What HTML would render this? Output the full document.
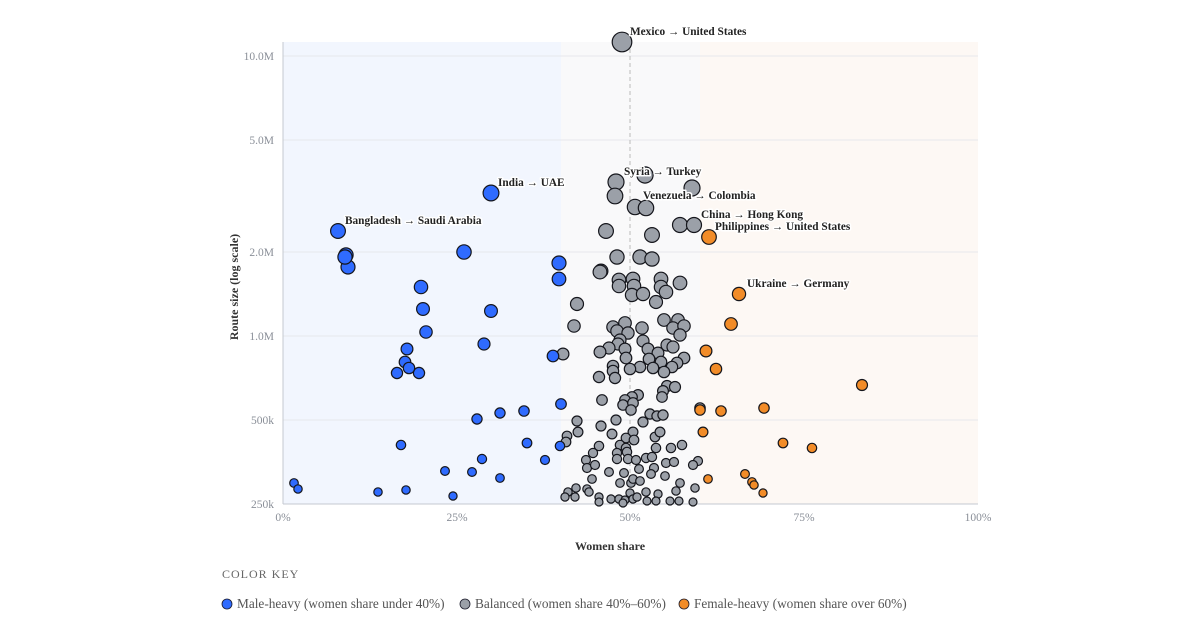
<!DOCTYPE html>
<html><head><meta charset="utf-8"><style>
body{margin:0;background:#fff;width:1200px;height:630px;overflow:hidden;font-family:"Liberation Serif",serif}
svg{display:block}
.t{font-family:"Liberation Serif",serif;font-size:11.5px;fill:#8a8f98}
.lab{font-family:"Liberation Serif",serif;font-size:11.3px;font-weight:bold;fill:#222;stroke:#fff;stroke-width:3px;paint-order:stroke;stroke-linejoin:round}
.lg{font-family:"Liberation Serif",serif;font-size:13.3px;fill:#555}
</style></head><body>
<svg id="s" width="1200" height="630" xmlns="http://www.w3.org/2000/svg">
<rect x="283" y="42" width="278" height="462" fill="#f2f6fe"/>
<rect x="561" y="42" width="139" height="462" fill="#f9f9fa"/>
<rect x="700" y="42" width="278" height="462" fill="#fdf8f4"/>
<g stroke="#e6e8ec" stroke-width="1">
<line x1="283" x2="978" y1="56" y2="56"/><line x1="283" x2="978" y1="140" y2="140"/>
<line x1="283" x2="978" y1="252" y2="252"/><line x1="283" x2="978" y1="336" y2="336"/>
<line x1="283" x2="978" y1="420" y2="420"/></g>
<line x1="283" x2="283" y1="42" y2="504" stroke="#c4c8d0"/>
<line x1="283" x2="978" y1="504" y2="504" stroke="#c4c8d0"/>
<line x1="630" x2="630" y1="42" y2="504" stroke="#bbb" stroke-dasharray="4,3"/>
<g class="t" text-anchor="end">
<text x="274" y="60">10.0M</text><text x="274" y="144">5.0M</text><text x="274" y="256">2.0M</text>
<text x="274" y="340">1.0M</text><text x="274" y="424">500k</text><text x="274" y="508">250k</text></g>
<g class="t" text-anchor="middle">
<text x="283" y="521">0%</text><text x="457" y="521">25%</text><text x="630" y="521">50%</text>
<text x="804" y="521">75%</text><text x="978" y="521">100%</text></g>
<text x="610" y="550" text-anchor="middle" font-size="12" font-weight="bold" fill="#333">Women share</text>
<text transform="translate(238,287) rotate(-90)" text-anchor="middle" font-size="12" font-weight="bold" fill="#333">Route size (log scale)</text>
<g id="pts"></g>
<g id="labs">
<text class="lab" x="630" y="35">Mexico → United States</text>
<text class="lab" x="498" y="186">India → UAE</text>
<text class="lab" x="345" y="224">Bangladesh → Saudi Arabia</text>
<text class="lab" x="624" y="175">Syria → Turkey</text>
<text class="lab" x="643" y="199">Venezuela → Colombia</text>
<text class="lab" x="701" y="218">China → Hong Kong</text>
<text class="lab" x="715" y="230">Philippines → United States</text>
<text class="lab" x="747" y="287">Ukraine → Germany</text>
</g>
<text x="222" y="578" font-size="12" fill="#666" letter-spacing="1">COLOR KEY</text>
<circle cx="227" cy="604" r="5" fill="#2f6bff" stroke="#1a1a2a" stroke-width="0.8"/>
<text class="lg" x="237" y="608">Male-heavy (women share under 40%)</text>
<circle cx="465" cy="604" r="5" fill="#9ba0a8" stroke="#1a1a2a" stroke-width="0.8"/>
<text class="lg" x="475" y="608">Balanced (women share 40%–60%)</text>
<circle cx="684" cy="604" r="5" fill="#f28c28" stroke="#1a1a2a" stroke-width="0.8"/>
<text class="lg" x="694" y="608">Female-heavy (women share over 60%)</text>
</svg>
<script>
var B=[[294,483],[298,489],[378,492],[406,490],[453,496],[401,445],[445,471],[472,472],[482,459],[500,478],[477,419],[500,413],[524,411],[527,443],[545,460],[560,446],[561,404],[553,356],[397,373],[419,373],[405,362],[409,368],[407,349],[426,332],[484,344],[423,309],[421,287],[491,311],[464,252],[559,263],[559,279],[346,255],[348,267],[345,257],[338,231],[491,193]];
var O=[[709,237],[739,294],[731,324],[706,351],[716,369],[862,385],[764,408],[700,410],[721,411],[703,432],[783,443],[812,448],[745,474],[752,482],[754,485],[708,479],[763,493]];
var G=[[622,42],[616,182],[645,175],[615,196],[692,188],[635,207],[646,208],[606,231],[680,225],[694,225],[652,235],[617,257],[640,257],[652,259],[601,271],[600,272],[619,280],[633,279],[661,279],[680,283],[619,286],[634,286],[661,287],[666,292],[632,295],[643,294],[656,302],[577,304],[574,326],[664,320],[678,320],[613,327],[625,323],[642,328],[673,328],[684,326],[617,331],[628,333],[680,335],[620,340],[643,341],[667,345],[618,344],[609,348],[625,349],[648,349],[658,353],[673,347],[600,352],[563,354],[626,358],[649,359],[661,362],[684,358],[677,363],[613,366],[640,367],[653,368],[672,367],[630,369],[613,371],[664,372],[615,378],[599,377],[667,386],[675,387],[663,391],[638,395],[632,397],[625,400],[602,400],[662,397],[623,405],[633,403],[631,410],[700,408],[577,421],[578,432],[567,436],[566,442],[601,426],[612,434],[616,420],[643,422],[650,414],[657,416],[663,415],[633,432],[626,438],[634,440],[655,437],[660,432],[599,446],[620,445],[626,448],[617,453],[627,452],[656,448],[671,448],[682,445],[593,453],[586,460],[617,459],[628,459],[636,460],[646,458],[652,457],[666,463],[674,462],[698,461],[693,465],[587,468],[595,465],[609,472],[624,473],[639,469],[654,468],[592,479],[651,474],[665,476],[620,483],[631,483],[633,479],[640,481],[680,483],[695,488],[576,488],[587,489],[568,492],[565,497],[575,497],[589,492],[599,497],[630,493],[646,492],[658,494],[676,491],[611,499],[619,499],[625,500],[633,499],[623,503],[637,497],[647,501],[656,501],[670,501],[679,501],[693,502],[599,502]];
var g=document.getElementById('pts'),h='';
function add(a,c){a.forEach(function(p){var r=4+(504-p[1])/84*1.05;h+='<circle cx="'+p[0]+'" cy="'+p[1]+'" r="'+r.toFixed(1)+'" fill="'+c+'" stroke="#15161c" stroke-width="1.2"/>';});}
add(G,'#9ba0a8');add(B,'#2f6bff');add(O,'#f28c28');
g.innerHTML=h;
</script>
</body></html>
